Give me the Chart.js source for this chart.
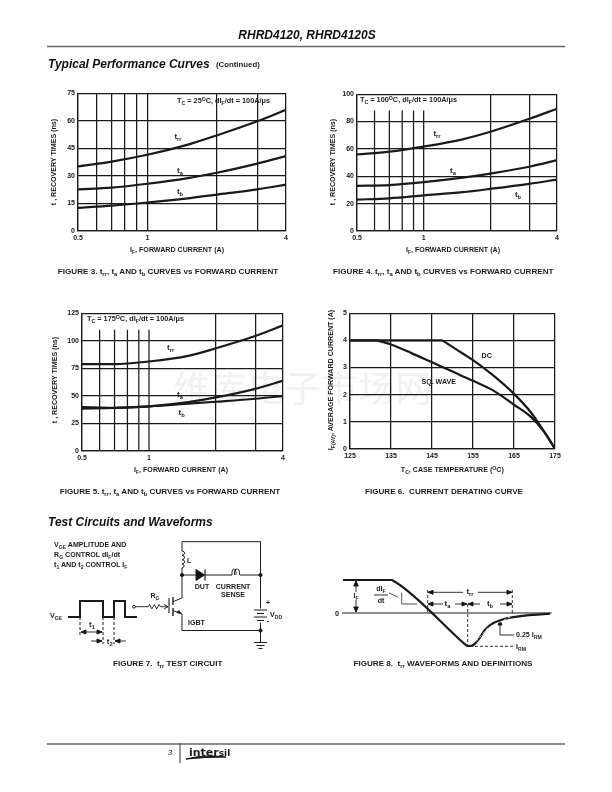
<!DOCTYPE html>
<html>
<head>
<meta charset="utf-8">
<script src="https://cdn.jsdelivr.net/npm/chart.js@4"></script>
<style>
html, body { margin: 0; padding: 0; background: #fff; }
#page { position: relative; width: 612px; height: 792px; overflow: hidden; font-family: "Liberation Sans", sans-serif; color: #1c1c1c; }
canvas { position: absolute; }
svg { position: absolute; left: 0; top: 0; }
#labels { position: absolute; left: 0; top: 0; width: 612px; height: 792px; will-change: transform; }
.t { position: absolute; font-weight: bold; font-size: 7.1px; line-height: 8px; white-space: nowrap; transform: translate(-50%, -50%); }
.t sub { font-size: 72%; line-height: 0; vertical-align: -1.5px; }
.t sup { font-size: 72%; line-height: 0; vertical-align: 2px; }
.l { transform: translate(0, -50%); }
.white { background: #fff; padding: 0 2px; }
.r { transform: translate(-50%, -50%) rotate(-90deg); }
.h { font-size: 12px; font-style: italic; line-height: 14px; color: #111; }
.cap { font-size: 8.1px; }
.ann { font-size: 7.3px; }
.m { font-size: 8px; }
</style>
</head>
<body>
<div id="page">
<svg width="612" height="792" fill="none" stroke="#1c1c1c" stroke-width="1">
  <!-- page rules -->
  <line x1="47" y1="46.5" x2="565" y2="46.5" stroke="#666" stroke-width="1.4"/>
  <line x1="47" y1="744" x2="565" y2="744" stroke="#666" stroke-width="1.4"/>
  <line x1="180" y1="743" x2="180" y2="763" stroke="#555" stroke-width="1.2"/>
  <path d="M186 759 Q205 754 226 757 Q205 757 186 759Z" fill="#111" stroke="#111"/>

  <!-- figure 7 circuit -->
  <path d="M182 598V575M182 551V541.7H260.5V630.5H182V614"/>
  <path d="M182 551a3.4 2.2 0 0 1 0 4.3a3.4 2.2 0 0 1 0 4.3a3.4 2.2 0 0 1 0 4.3a3.4 2.2 0 0 1 0 4.1V575"/>
  <path d="M182 575H196M205 575H232M240 575H260.5"/>
  <path d="M232 575v-3a2 3 0 0 1 4 0v3m-1.5 0v-3a2.5 3 0 0 1 5 0v3" stroke-width="0.9"/>
  <path d="M196 569.5V580.5L204.5 575Z" fill="#111"/>
  <line x1="205" y1="569.5" x2="205" y2="580.5" stroke-width="1.2"/>
  <circle cx="182" cy="575" r="1.6" fill="#111"/>
  <circle cx="260.5" cy="575" r="1.6" fill="#111"/>
  <circle cx="260.5" cy="630.5" r="1.6" fill="#111"/>
  <path d="M135.5 606.7H148l1.5-2.2 2.4 4.4 2.4-4.4 2.4 4.4 2.4-4.4 1.4 2.2H168" stroke-width="0.9"/>
  <path d="M164 604.5L168 606.7L164 609" stroke-width="0.9"/>
  <line x1="169" y1="598" x2="169" y2="613" stroke-width="1.1"/>
  <line x1="173" y1="597" x2="173" y2="605" stroke-width="1.4"/>
  <line x1="173" y1="608" x2="173" y2="616" stroke-width="1.4"/>
  <path d="M173 601.7L182 598M173 610.5L182 614"/>
  <path d="M177 612.5L181 613.7L179 610.5Z" fill="#111"/>
  <rect x="255" y="608.5" width="11" height="14" fill="#fff" stroke="none"/>
  <path d="M260.5 630.5V642" fill="none"/>
  <path d="M254 610H267M257 613.5H264M254 617H267M257 620.5H264" stroke-width="1.1"/>
  <path d="M254 642.5H267M256.5 645.5H264.5M258.5 648.5H262.5" stroke-width="1.1"/>
  <!-- figure 7 timing marks -->
  <path d="M80 617V636M103 617V644M114 617V644" stroke-dasharray="3 2"/>
  <path d="M81 632H102" stroke-width="0.9"/>
  <path d="M86 630L81 632L86 634ZM97 630L102 632L97 634Z" fill="#111"/>
  <path d="M91 641H102M115 641H126" stroke-width="0.9"/>
  <path d="M97 639L102 641L97 643ZM120 639L115 641L120 643Z" fill="#111"/>

  <!-- figure 8 definitions -->
  <path d="M356 581V612" stroke-width="0.9"/>
  <path d="M353.7 586L356 581L358.3 586ZM353.7 607L356 612L358.3 607Z" fill="#111"/>
  <line x1="374" y1="595" x2="388" y2="595" stroke-width="0.9"/>
  <path d="M389 593L398 597" stroke-width="0.8"/>
  <path d="M401.7 592.7V604H417" stroke-width="1" stroke="#555"/>
  <path d="M427.7 590V612M467.7 604V646M512.3 590V614" stroke-dasharray="3 2" stroke-width="0.9"/>
  <path d="M428 592.3H463M478 592.3H512M428 604H443M455 604H467M468 604H480M500 604H512" stroke-width="0.9"/>
  <path d="M433 590.3L428 592.3L433 594.3ZM507 590.3L512 592.3L507 594.3ZM433 602L428 604L433 606ZM462 602L467 604L462 606ZM473 602L468 604L473 606ZM507 602L512 604L507 606Z" fill="#111"/>
  <path d="M470 646.3H513" stroke-dasharray="3 2" stroke-width="0.9"/>
  <path d="M514 635H500V621" stroke-width="0.9"/>
  <path d="M498 625L500 620L502 625Z" fill="#111"/>
</svg>
<div id="labels"></div>
</div>

<script>
// recovery time curves
var currents = [0.5, 0.7, 1, 1.5, 2, 3, 4];

var trr25 = [35.2, 37.8, 41.5, 47, 52, 59.7, 66];
var ta25 = [22.7, 23.6, 25.7, 28.8, 31.7, 36.7, 40.8];
var tb25 = [12.6, 13.8, 15.5, 17.8, 19.8, 22.7, 25.2];

var trr100 = [55.9, 58, 61.7, 67, 72.5, 82, 89.4];
var ta100 = [33, 33.6, 35.7, 39, 42, 47, 51.8];
var tb100 = [22.9, 23.9, 26, 28.4, 30.8, 34.5, 37.6];

var trr175 = [78.8, 78.8, 81.2, 86.3, 93.2, 104.3, 114];
var ta175 = [38.4, 39, 40.5, 44.4, 48.6, 56.4, 63.8];
var tb175 = [39.9, 39.2, 40.5, 42.9, 44.7, 47.4, 49.8];

// derating curves, flat part then the roll off
var dcFlatTemp = [125, 147.5];
var sqFlatTemp = [125, 131.5];
var flatAmps = [4, 4];
var dcTemp = [147.5, 151, 155, 160, 165, 169, 172, 174, 175];
var dcAmps = [4, 3.66, 3.27, 2.7, 2.03, 1.37, 0.72, 0.25, 0];
var sqTemp = [131.5, 135, 140, 145, 150, 155, 160, 165, 169, 172.3, 174, 175];
var sqAmps = [4, 3.85, 3.53, 3.19, 2.85, 2.51, 2.15, 1.63, 1.2, 0.64, 0.25, 0];

// log axis ticks
var allCurrentTicks = [0.5, 0.6, 0.7, 0.8, 0.9, 1, 2, 3, 4];
var mainCurrentTicks = [0.5, 1, 2, 3, 4];
var shortGridLines = [0.6, 0.7, 0.8, 0.9, 1];
var currentTickLabels = [0.5, 1, 4];

// gate pulse and reverse recovery waveform
var pulseTime = [0, 12, 12, 35, 35, 46, 46, 57, 57, 69];
var pulseLevel = [0, 0, 1, 1, 0, 0, 1, 1, 0, 0];
var waveTime = [0, 147, 362, 372, 380, 392, 407, 427, 452, 492, 552, 622];
var waveAmps = [99, 99, -90, -98, -99, -96, -80, -50, -30, -16, -7, -2];
var baseTime = [-3, 627];
var baseAmps = [0, 0];
var tangentTime = [400, 435, 502];
var tangentAmps = [-85, -45, -12];

var ink = '#1a1a1a';
var gridWidth = 1.25;
var gapL = 30, gapT = 6, gapR = 10, gapB = 16;

function pairs(xs, ys) {
    return xs.map(function (x, i) { return { x: x, y: ys[i] }; });
}

function curve(xs, ys) {
    return {
        data: pairs(xs, ys), showLine: true, pointRadius: 0, borderColor: ink, borderWidth: 2.2,
        cubicInterpolationMode: 'monotone', fill: false
    };
}

function straight(xs, ys) {
    return { data: pairs(xs, ys), showLine: true, pointRadius: 0, borderColor: ink, borderWidth: 2.2 };
}

function addCanvas(left, top, w, h) {
    var c = document.createElement('canvas');
    c.width = w; c.height = h;
    c.style.left = left + 'px';
    c.style.top = top + 'px';
    document.getElementById('page').appendChild(c);
    return c;
}

// plot box is given in page pixels, the axes get a fixed size so it lands there
function plot(box, datasets, xScale, yScale) {
    var c = addCanvas(box[0] - gapL, box[1] - gapT, box[2] - box[0] + gapL + gapR, box[3] - box[1] + gapT + gapB);
    var font = { family: 'Liberation Sans', size: 7, weight: 'bold' };
    var grid = { color: ink, lineWidth: gridWidth, drawTicks: false };
    xScale.afterFit = function (s) { s.height = gapB; };
    yScale.afterFit = function (s) { s.width = gapL; };
    xScale.grid = xScale.grid || grid;
    yScale.grid = grid;
    xScale.border = { color: ink, width: gridWidth };
    yScale.border = { color: ink, width: gridWidth };
    xScale.ticks = Object.assign({ color: ink, font: font, padding: 3, maxRotation: 0, autoSkip: false }, xScale.ticks);
    yScale.ticks = Object.assign({ color: ink, font: font, padding: 3 }, yScale.ticks);
    return new Chart(c, {
        type: 'scatter',
        data: { datasets: datasets },
        options: {
            responsive: false, animation: false,
            layout: { padding: { top: gapT, right: gapR, left: 0, bottom: 0 } },
            plugins: { legend: { display: false }, tooltip: { enabled: false } },
            scales: { x: xScale, y: yScale }
        }
    });
}

function currentAxis(ticks, hideUpTo) {
    var axis = {
        type: 'logarithmic', min: 0.5, max: 4,
        afterBuildTicks: function (s) { s.ticks = ticks.map(function (v) { return { value: v }; }); },
        ticks: { callback: function (v) { return currentTickLabels.indexOf(v) >= 0 ? String(v) : ''; } }
    };
    if (hideUpTo) {
        axis.grid = {
            lineWidth: gridWidth, drawTicks: false,
            color: function (ctx) {
                var v = ctx.tick ? ctx.tick.value : 0;
                return v > 0.5 && v <= hideUpTo ? 'rgba(0,0,0,0)' : ink;
            }
        };
    }
    return axis;
}

function shortLines(cap) {
    return shortGridLines.map(function (x) {
        return { data: pairs([x, x], [0, cap]), showLine: true, pointRadius: 0, borderColor: ink, borderWidth: gridWidth, order: 5 };
    });
}

plot([78, 92, 286, 231],
    [curve(currents, trr25), curve(currents, ta25), curve(currents, tb25)],
    currentAxis(allCurrentTicks),
    { min: 0, max: 75, ticks: { stepSize: 15 } });

plot([357, 93, 557, 231],
    [curve(currents, trr100), curve(currents, ta100), curve(currents, tb100)].concat(shortLines(88)),
    currentAxis(mainCurrentTicks, 1),
    { min: 0, max: 100, ticks: { stepSize: 20 } });

plot([82, 312, 283, 451],
    [curve(currents, trr175), curve(currents, ta175), curve(currents, tb175)].concat(shortLines(110)),
    currentAxis(mainCurrentTicks, 1),
    { min: 0, max: 125, ticks: { stepSize: 25 } });

plot([350, 312, 555, 449],
    [straight(dcFlatTemp, flatAmps), straight(sqFlatTemp, flatAmps), curve(dcTemp, dcAmps), curve(sqTemp, sqAmps)],
    { type: 'linear', min: 125, max: 175, ticks: { stepSize: 10 } },
    { min: 0, max: 5, ticks: { stepSize: 1 } });

// bare charts for the two waveforms, no axes shown
function bare(left, top, w, h, datasets, xr, yr) {
    var pad = 4;
    var c = addCanvas(left - pad, top - pad, w + pad * 2, h + pad * 2);
    return new Chart(c, {
        type: 'scatter',
        data: { datasets: datasets },
        options: {
            responsive: false, animation: false,
            layout: { padding: pad },
            plugins: { legend: { display: false }, tooltip: { enabled: false } },
            scales: {
                x: { display: false, min: xr[0], max: xr[1] },
                y: { display: false, min: yr[0], max: yr[1] }
            }
        }
    });
}

bare(68, 601, 69, 16,
    [{ data: pairs(pulseTime, pulseLevel), showLine: true, pointRadius: 0, borderColor: ink, borderWidth: 2, clip: false }],
    [0, 69], [0, 1]);

var tangent = { data: pairs(tangentTime, tangentAmps), showLine: true, pointRadius: 0, borderColor: '#fff', borderWidth: 0.8, borderDash: [3, 2], order: -1 };
var baseLine = { data: pairs(baseTime, baseAmps), showLine: true, pointRadius: 0, borderColor: ink, borderWidth: 1.2, clip: false, order: 3 };
var recovery = { data: pairs(waveTime, waveAmps), showLine: true, pointRadius: 0, borderColor: ink, borderWidth: 2.2, tension: 0.25, clip: false, order: 1 };
bare(342.7, 580.3, 207.3, 66, [recovery, baseLine, tangent], [0, 622], [-99, 99]);

// gate input circle sits on top of the pulse end
var gateDot = document.createElementNS('http://www.w3.org/2000/svg', 'svg');
gateDot.setAttribute('width', 612); gateDot.setAttribute('height', 792);
gateDot.innerHTML = '<circle cx="134" cy="606.7" r="1.4" fill="#fff" stroke="#1c1c1c"/>';
document.getElementById('page').appendChild(gateDot);

// text
function lab(x, y, html, cls) {
    var d = document.createElement('div');
    d.className = 't ' + (cls || '');
    d.style.left = x + 'px';
    d.style.top = y + 'px';
    d.innerHTML = html;
    document.getElementById('labels').appendChild(d);
    return d;
}
lab(307, 35, 'RHRD4120, RHRD4120S', 'h');
lab(48, 63.5, 'Typical Performance Curves', 'l h');
lab(216, 65, '(Continued)', 'l').style.fontSize = '7.8px';
lab(48, 522, 'Test Circuits and Waveforms', 'l h');

var mark = lab(303, 386, '维库电子市场网');
mark.style.cssText += 'font:normal 36px "Noto Sans CJK SC";line-height:40px;color:#f1f1f1;letter-spacing:1px;';
document.getElementById('page').insertBefore(mark, document.getElementById('page').firstChild);

var figTail = ' t<sub>rr</sub>, t<sub>a</sub> AND t<sub>b</sub> CURVES vs FORWARD CURRENT';
var ifAxis = 'I<sub>F</sub>, FORWARD CURRENT (A)';
var tAxis = 't , RECOVERY TIMES (ns)';

// figure 3
lab(177, 101, 'T<sub>C</sub> = 25<sup>O</sup>C, dI<sub>F</sub>/dt = 100A/&mu;s', 'l ann');
lab(178, 137, 't<sub>rr</sub>', 'm'); lab(180, 170.7, 't<sub>a</sub>', 'm'); lab(180, 192, 't<sub>b</sub>', 'm');
lab(177, 250, ifAxis); lab(54, 161.7, tAxis, 'r'); lab(168, 272, 'FIGURE 3.' + figTail, 'cap');
// figure 4
lab(360, 100, 'T<sub>C</sub> = 100<sup>O</sup>C, dI<sub>F</sub>/dt = 100A/&mu;s', 'l ann');
lab(437, 134, 't<sub>rr</sub>', 'm'); lab(453, 170.7, 't<sub>a</sub>', 'm white'); lab(518, 194.7, 't<sub>b</sub>', 'm');
lab(453, 250, ifAxis); lab(332.7, 161.7, tAxis, 'r'); lab(443.3, 272, 'FIGURE 4.' + figTail, 'cap');
// figure 5
lab(87, 319, 'T<sub>C</sub> = 175<sup>O</sup>C, dI<sub>F</sub>/dt = 100A/&mu;s', 'l ann');
lab(170.7, 348, 't<sub>rr</sub>', 'm'); lab(180, 394.7, 't<sub>a</sub>', 'm white'); lab(181.7, 413, 't<sub>b</sub>', 'm');
lab(181, 470.3, ifAxis); lab(55, 380, tAxis, 'r'); lab(170, 492, 'FIGURE 5.' + figTail, 'cap');
// figure 6
lab(486.7, 355.7, 'DC'); lab(438.7, 382.3, 'SQ. WAVE', 'white');
lab(452.3, 470, 'T<sub>C</sub>, CASE TEMPERATURE (<sup>O</sup>C)');
lab(331, 380, 'I<sub>F(AV)</sub>, AVERAGE FORWARD CURRENT (A)', 'r');
lab(444, 492, 'FIGURE 6.&nbsp; CURRENT DERATING CURVE', 'cap');
// figure 7
lab(54, 545, 'V<sub>GE</sub> AMPLITUDE AND', 'l');
lab(54, 555, 'R<sub>G</sub> CONTROL dI<sub>F</sub>/dt', 'l');
lab(54, 565, 't<sub>1</sub> AND t<sub>2</sub> CONTROL I<sub>F</sub>', 'l');
lab(50, 616, 'V<sub>GE</sub>', 'l'); lab(92, 625, 't<sub>1</sub>', 'm'); lab(109.7, 642, 't<sub>2</sub>', 'm');
lab(155, 596, 'R<sub>G</sub>'); lab(187, 560.5, 'L', 'l'); lab(202, 587, 'DUT');
lab(233, 587, 'CURRENT'); lab(233, 595, 'SENSE'); lab(188, 623, 'IGBT', 'l');
lab(268, 603, '+'); lab(270, 615, 'V<sub>DD</sub>', 'l'); lab(268, 621, '-');
lab(167.7, 664, 'FIGURE 7.&nbsp; t<sub>rr</sub> TEST CIRCUIT', 'cap');
// figure 8
lab(337, 613.5, '0'); lab(356, 596, 'I<sub>F</sub>', 'white'); lab(381, 589.3, 'dI<sub>F</sub>'); lab(381, 601, 'dt');
lab(470, 592, 't<sub>rr</sub>', 'm'); lab(447.5, 604, 't<sub>a</sub>', 'm'); lab(490, 604, 't<sub>b</sub>', 'm');
lab(516, 635, '0.25 I<sub>RM</sub>', 'l'); lab(516, 646.5, 'I<sub>RM</sub>', 'l');
lab(443, 664, 'FIGURE 8.&nbsp; t<sub>rr</sub> WAVEFORMS AND DEFINITIONS', 'cap');
// footer
var pageNo = lab(170, 753, '3');
pageNo.style.cssText += 'font-weight:normal;font-style:italic;font-size:8px;';
var logo = lab(189, 752.5, 'inter<span style="font-size:9px">sil</span>', 'l');
logo.style.cssText += 'font-size:11px;font-family:"DejaVu Sans";letter-spacing:0;';
</script>
</body>
</html>
